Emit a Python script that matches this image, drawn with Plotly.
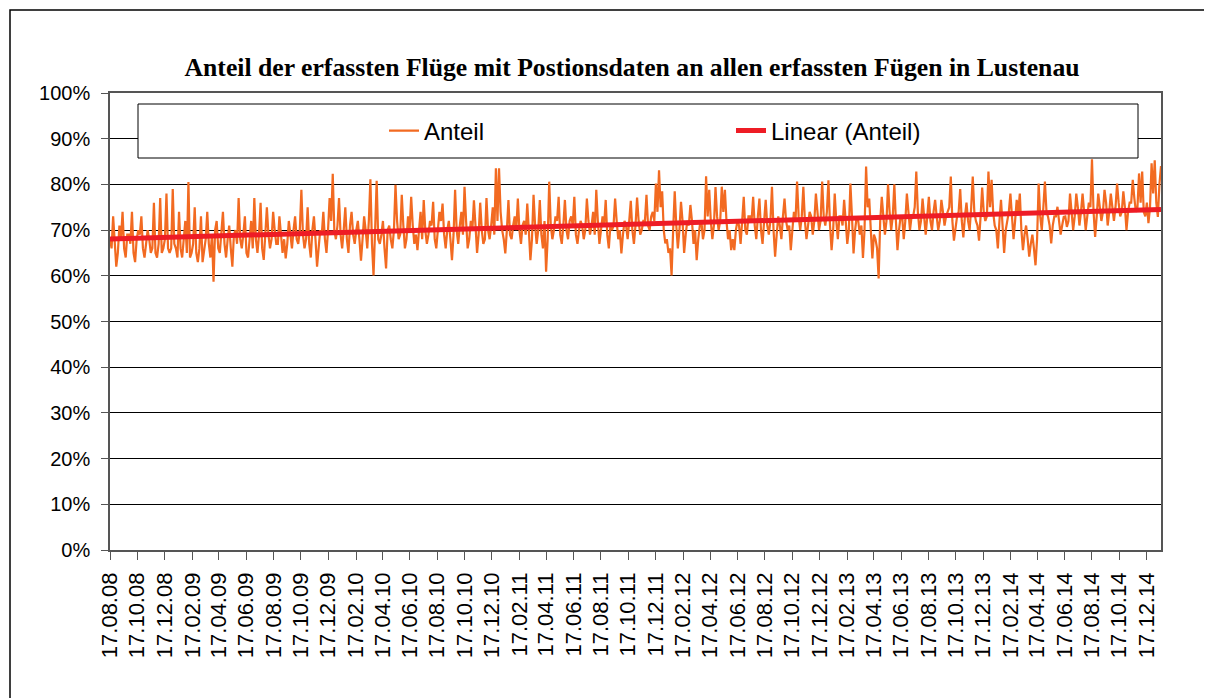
import numpy as np
import pandas as pd
import plotly.graph_objects as go

# ---- data (readings, in %) ----
start_date = "2008-08-17"
# readings at the start of each week
anteil_week = [
    68, 73, 62, 71, 74, 64, 69, 74, 63, 70,
    73, 64, 70, 65, 76, 64, 77, 66, 78, 65,
    79, 66, 74, 64, 72, 80.5, 65, 75, 63, 73,
    66, 74, 64, 58.7, 72, 65, 74, 64, 71, 62,
    70, 77, 66, 73, 64, 72, 77, 65, 76, 63.5,
    75, 66, 74, 67, 73, 65, 63.8, 72, 66, 73,
    67, 78.8, 66, 75, 64, 73, 62, 70, 74, 65,
    77, 82.3, 68, 77, 66, 75, 65, 74, 67, 72,
    63.3, 73, 66, 81.1, 60.1, 80.8, 67, 72, 61.6, 71,
    66, 79.9, 68, 77.7, 66, 73, 77.3, 67, 65.6, 74,
    76.6, 67, 72, 76.2, 66, 74, 75.8, 66, 72, 63.4,
    78.8, 67, 74, 79.5, 66, 72, 76.5, 65, 76, 67,
    77, 68, 75, 83.5, 83.5, 70, 64.9, 76.6, 68, 73,
    76.9, 67, 72, 75.8, 63.4, 77.7, 67, 76.6, 66, 60.9,
    80.6, 68, 73, 77.3, 67, 76.6, 68, 73, 77.3, 67,
    72, 68, 76.9, 69, 74, 78.8, 67, 73, 76.6, 66,
    70, 76.9, 68, 64.9, 72, 68, 76.4, 67, 77.1, 69,
    72, 77.7, 70, 74, 80.2, 83.1, 78.5, 67.1, 65, 60.1,
    78.5, 66, 76.2, 65, 72, 75.5, 67, 63.4, 71, 68,
    81.8, 78.8, 68, 79.4, 70, 79.5, 78.8, 68, 65.6, 65.6,
    72, 67, 77.3, 69, 73, 77.3, 68, 76.9, 67, 76.6,
    69, 79.5, 64.2, 73, 68, 76.9, 70, 65.6, 74, 80.6,
    70, 79.5, 68, 74, 69, 78, 70, 80.6, 71, 80.9,
    65.6, 78, 68, 73, 76.6, 67, 80.2, 64.9, 73, 69,
    63.9, 83.9, 76.9, 63.8, 68, 59.4, 77.3, 69, 80, 70,
    80, 65.6, 73, 68, 78, 70, 73, 82.8, 70, 76.9,
    69, 77.3, 70, 76.6, 70, 76.6, 71, 74, 81.7, 67.7,
    73, 79, 68.4, 76, 70, 81.7, 72, 67.7, 79.3, 72,
    82.8, 81, 71, 66, 76.6, 65, 72, 78, 68, 76.6,
    78, 65.6, 71, 64.2, 69, 62.3, 80.2, 70, 80.6, 72.9,
    67.1, 73, 75.1, 69, 72.9, 70.7, 78, 70, 78, 71,
    78, 70, 76, 85.5, 68.5, 78, 72, 78.8, 71, 78,
    72, 80.2, 73, 78.5, 70, 76, 81, 74, 82.4, 82.8,
    73, 71.5, 84.6, 85.3, 72.9, 84,
]
# readings in the middle of each week
anteil_midweek = [
    66, 67, 65, 68, 66, 69, 67, 65, 68, 69,
    66, 67, 68, 66, 65, 67, 65, 68, 66, 66,
    67, 64, 66, 68, 65, 64, 67, 65, 66, 63,
    68, 67, 69, 70, 66, 69, 67, 68, 66, 69,
    67, 68, 69, 65, 68, 66, 68, 69, 66, 69,
    69, 68, 70, 67, 69, 68, 67, 69, 70, 68,
    70, 69, 68, 67, 70, 68, 66, 69, 68, 70,
    72, 70, 71, 69, 70, 68, 71, 69, 70, 68,
    68, 70, 72, 67, 70, 68, 69, 66, 70, 68,
    70, 72, 69, 71, 68, 70, 71, 69, 70, 68,
    70, 69, 71, 68, 70, 72, 69, 70, 68, 69,
    70, 71, 69, 72, 68, 70, 71, 69, 70, 68,
    70, 71, 69, 72, 74, 68, 70, 69, 71, 70,
    70, 71, 69, 70, 68, 71, 70, 69, 72, 68,
    71, 70, 72, 69, 71, 70, 72, 71, 69, 70,
    71, 70, 72, 71, 69, 72, 70, 71, 69, 71,
    71, 72, 70, 69, 71, 72, 70, 71, 72, 70,
    72, 71, 73, 72, 74, 75, 70, 68, 66, 70,
    71, 70, 72, 69, 71, 72, 70, 68, 72, 70,
    73, 72, 71, 73, 72, 74, 72, 70, 68, 70,
    71, 72, 70, 73, 72, 71, 73, 70, 72, 71,
    72, 70, 69, 71, 73, 72, 71, 70, 72, 73,
    73, 72, 71, 73, 72, 74, 72, 73, 74, 71,
    70, 72, 73, 71, 72, 70, 73, 70, 72, 71,
    70, 75, 70, 69, 66, 72, 73, 72, 74, 73,
    72, 70, 73, 72, 74, 73, 75, 74, 72, 73,
    73, 72, 74, 73, 72, 74, 73, 75, 72, 71,
    74, 72, 73, 72, 75, 74, 71, 73, 74, 73,
    75, 74, 70, 72, 71, 70, 74, 73, 72, 74,
    70, 69, 68, 67, 66, 68, 73, 75, 74, 71,
    71, 73, 72, 71, 73, 72, 74, 73, 75, 74,
    74, 73, 75, 74, 73, 75, 74, 76, 74, 75,
    75, 76, 74, 75, 74, 76, 77, 75, 76, 74,
    76, 75, 78, 76, 80,
]
tick_start = "2008-08-17"
tick_end = "2014-12-17"

# ---- series assembly (week start / mid-week readings in time order) ----
anteil = []
for i, v in enumerate(anteil_week):
    anteil.append(v)
    if i < len(anteil_midweek):
        anteil.append(anteil_midweek[i])
dates = pd.date_range(start_date, periods=len(anteil), freq="84h")

# linear trend (Excel "Linear (Anteil)") fitted to the series
day_idx = (dates - dates[0]) / pd.Timedelta(days=1)
day_idx = np.asarray(day_idx, dtype=float)
slope, intercept = np.polyfit(day_idx, np.array(anteil, dtype=float), 1)
trend_x = [dates[0], dates[-1]]
trend_y = [intercept + slope * day_idx[0], intercept + slope * day_idx[-1]]

tick_dates = []
d = pd.Timestamp(tick_start)
while d <= pd.Timestamp(tick_end):
    tick_dates.append(d)
    d = d + pd.DateOffset(months=2)
tick_text = [t.strftime("%d.%m.%y") for t in tick_dates]

# ---- geometry (page has an 8px body margin, so figure = window - 8) ----
OFF = 8
W, H = 1212 - OFF, 698 - OFF
L, R, T, B = 110, 1161, 93, 550          # plot area in window pixels
def px(x):
    return (x - L) / (R - L)
def py(y):
    return (B - y) / (B - T)

fig = go.Figure()
fig.add_trace(go.Scatter(
    x=dates, y=anteil, mode="lines", name="Anteil",
    line=dict(color="#F26A21", width=2.2),
))
fig.add_trace(go.Scatter(
    x=trend_x, y=trend_y, mode="lines", name="Linear (Anteil)",
    line=dict(color="#EE1C25", width=5),
))

axis_col = "#555555"
fig.update_layout(
    width=W, height=H,
    margin=dict(l=L - OFF, r=1212 - R, t=T - OFF, b=698 - B, autoexpand=False),
    paper_bgcolor="white", plot_bgcolor="white",
    font=dict(family="Liberation Sans, Arial, sans-serif", color="black", size=20),
    title=dict(
        text="<b>Anteil der erfassten Flüge mit Postionsdaten an allen erfassten Fügen in Lustenau</b>",
        font=dict(family="Liberation Serif, Times New Roman, serif", size=25.7, color="black"),
        x=px(632), xref="paper", xanchor="center",
        y=1 - (67 - OFF) / H, yref="container", yanchor="middle",
    ),
    xaxis=dict(
        type="date",
        range=[dates[0], dates[-1]],
        tickvals=tick_dates, ticktext=tick_text,
        tickangle=-90,
        ticks="outside", ticklen=8, tickcolor=axis_col,
        showgrid=False, zeroline=False,
        showline=True, linecolor=axis_col, linewidth=1.5, mirror=True,
        tickfont=dict(size=22),
        ticklabelstandoff=4,
    ),
    yaxis=dict(
        range=[0, 100], dtick=10, ticksuffix="%",
        ticks="outside", ticklen=7, tickcolor=axis_col,
        showgrid=True, gridcolor="black", gridwidth=1,
        zeroline=False,
        showline=True, linecolor=axis_col, linewidth=1.5, mirror=True,
        tickfont=dict(size=20),
        ticklabelstandoff=7,
    ),
    legend=dict(
        orientation="h",
        x=px(384), xanchor="left",
        y=py(131), yanchor="middle",
        bgcolor="rgba(0,0,0,0)", borderwidth=0,
        font=dict(size=24),
        entrywidth=302, entrywidthmode="pixels",
    ),
    showlegend=True,
)

# legend frame
fig.add_shape(type="rect", xref="paper", yref="paper",
              x0=px(138), x1=px(1138), y0=py(158), y1=py(104),
              line=dict(color="black", width=1), fillcolor="white", layer="above")
# outer chart frame
fig.add_shape(type="rect", xref="paper", yref="paper",
              x0=px(10), x1=px(1205), y0=py(702), y1=py(10),
              line=dict(color="black", width=1.5), fillcolor="rgba(0,0,0,0)", layer="above")

fig.write_html("out.html")
